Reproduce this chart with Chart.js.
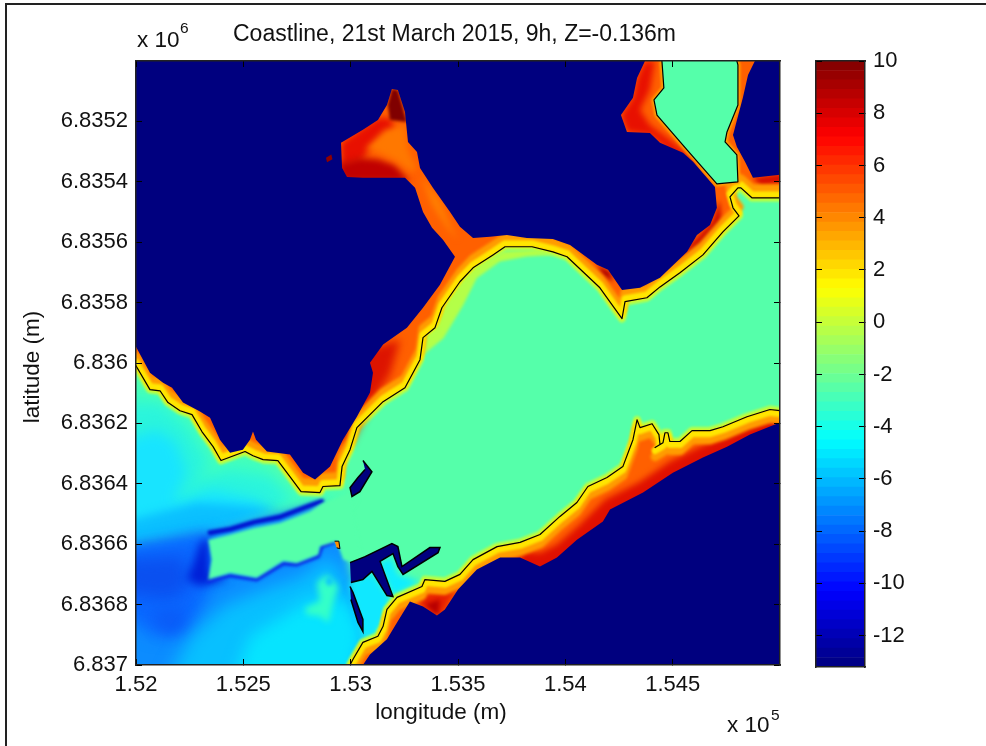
<!DOCTYPE html>
<html lang="en">
<head>
    <meta charset="UTF-8">
    <title>Coastline</title>
    <style>
        html, body { margin: 0; padding: 0; background: #fff; }
        #page { position: relative; width: 986px; height: 746px; overflow: hidden; }
        #page .frame-top { position: absolute; left: 6px; top: 3px; right: 0; height: 2px; background: #222; }
        #page .frame-left { position: absolute; left: 5px; top: 3px; bottom: 0; width: 2px; background: #222; }
        canvas { position: absolute; top: 0; }
        #map { left: 0; }
        #bar { left: 780px; }
    </style>
    <script src="https://cdn.jsdelivr.net/npm/chart.js"></script>
</head>
<body>
<div id="page">
    <div class="frame-top"></div>
    <div class="frame-left"></div>
    <canvas id="map" width="909" height="746"></canvas>
    <canvas id="bar" width="206" height="746"></canvas>
</div>

<script>
    // axis values
    const originLon = 152000;
    const originLat = 6835000;
    const lonTicks = [152000, 152500, 153000, 153500, 154000, 154500];
    const latTicks = [6835200, 6835400, 6835600, 6835800, 6836000, 6836200, 6836400, 6836600, 6836800, 6837000];
    const colorTicks = [10, 8, 6, 4, 2, 0, -2, -4, -6, -8, -10, -12];
    const colorMin = -13.2;
    const colorMax = 10;

    // outlines, [metres east of originLon, metres south of originLat]
    const seaExtent = [[0, 0], [3000, 0], [3000, 2000], [0, 2000]];

    const coastNorth = [[0, 1009], [65, 1088], [112, 1092], [149, 1131], [205, 1158], [261, 1171], [307, 1227], [359, 1277], [396, 1323],
        [508, 1293], [545, 1307], [592, 1320], [661, 1323], [717, 1376], [769, 1426], [857, 1429], [871, 1409], [950, 1406], [960, 1343],
        [997, 1287], [1029, 1214], [1151, 1128], [1253, 1082], [1323, 989], [1337, 916], [1393, 883], [1425, 817], [1509, 731], [1570, 685],
        [1663, 642], [1719, 615], [1845, 615], [1942, 632], [2008, 648], [2082, 698], [2161, 751], [2217, 807], [2264, 853], [2278, 797],
        [2380, 784], [2441, 748], [2534, 701], [2641, 642], [2734, 566], [2809, 513], [2781, 486], [2767, 450], [2804, 420], [2818, 420],
        [2869, 453], [3000, 453]];

    const coastSouth = [[3000, 1158], [2953, 1154], [2846, 1178], [2734, 1211], [2674, 1224], [2590, 1224], [2534, 1260], [2487, 1260],
        [2478, 1231], [2464, 1231], [2455, 1264], [2418, 1280], [2441, 1270], [2436, 1237], [2404, 1201], [2348, 1214], [2334, 1188],
        [2315, 1254], [2268, 1343], [2194, 1379], [2105, 1409], [2054, 1462], [1975, 1508], [1882, 1568], [1789, 1594], [1682, 1608],
        [1570, 1651], [1509, 1700], [1439, 1723], [1346, 1717], [1332, 1740], [1216, 1776], [1169, 1816], [1151, 1872], [1127, 1905],
        [1057, 1925], [1011, 1981], [997, 2000]];

    const lakeOutline = [[2450, 0], [2459, 89], [2413, 129], [2427, 179], [2567, 294], [2706, 407], [2804, 400], [2799, 311], [2744, 268],
        [2753, 235], [2804, 146], [2804, 13], [2799, 0]];

    const dryNorthWest = [[0, 0], [2371, 0], [2334, 56], [2315, 122], [2259, 179], [2287, 235], [2394, 238], [2441, 271], [2548, 304], [2595, 334],
        [2697, 417], [2706, 486], [2674, 543], [2613, 576], [2567, 632], [2441, 718], [2348, 751], [2264, 758], [2199, 691], [2147, 675],
        [2022, 609], [1942, 589], [1821, 586], [1728, 576], [1649, 582], [1570, 586], [1509, 549], [1463, 500], [1383, 420], [1323, 354],
        [1309, 301], [1267, 268], [1253, 169], [1220, 96], [1192, 93], [1169, 146], [1127, 195], [1057, 228], [955, 271], [960, 354],
        [983, 384], [1057, 387], [1253, 387], [1300, 420], [1337, 500], [1379, 552], [1430, 592], [1486, 648], [1416, 741], [1337, 817],
        [1262, 883], [1151, 939], [1090, 999], [1104, 1032], [1090, 1098], [1029, 1178], [964, 1254], [904, 1343], [834, 1386], [778, 1363],
        [717, 1303], [610, 1293], [559, 1254], [545, 1227], [531, 1254], [498, 1287], [438, 1297], [391, 1254], [345, 1181], [298, 1161],
        [219, 1131], [168, 1082], [126, 1065], [65, 1032], [0, 946]];
    const dryNorthEast = [[2883, 0], [3000, 0], [3000, 377], [2874, 387], [2837, 334], [2799, 284], [2781, 245], [2827, 122], [2851, 46]];
    const drySouth = [[3000, 1197], [2860, 1237], [2753, 1277], [2641, 1313], [2501, 1363], [2362, 1429], [2208, 1485], [2175, 1525], [2054, 1585],
        [1961, 1644], [1882, 1674], [1789, 1644], [1696, 1644], [1588, 1684], [1500, 1750], [1439, 1816], [1402, 1836], [1337, 1806],
        [1276, 1790], [1216, 1859], [1169, 1915], [1090, 1965], [1057, 2000], [3000, 2000]];

    // high ground patches
    const headTip = [[1192, 93], [1220, 96], [1262, 202], [1183, 195], [1173, 146]];
    const headRed = [[955, 271], [1057, 222], [1127, 189], [1183, 189], [1206, 228], [1113, 278], [1043, 331], [974, 344], [960, 361]];
    const headLower = [[940, 340], [1043, 320], [1127, 325], [1206, 345], [1276, 400], [1057, 400], [960, 400]];
    const headOrange = [[1066, 294], [1159, 228], [1253, 212], [1267, 294], [1309, 360], [1286, 367], [1206, 327], [1127, 301]];
    const stemCore = [[1323, 377], [1416, 460], [1463, 543], [1500, 592], [1449, 552], [1379, 476]];
    const westShoreRed = [[1066, 956], [1230, 923], [1183, 1039], [1090, 1138], [997, 1270], [950, 1254]];
    const bayHeadRed = [[2147, 675], [2208, 698], [2222, 731], [2175, 708]];
    const inletRed = [[2348, 741], [2581, 609], [2683, 533], [2720, 461], [2729, 543], [2627, 626], [2441, 738], [2348, 771]];
    const lakeWestRed = [[2371, 0], [2417, 0], [2394, 96], [2348, 162], [2394, 212], [2487, 261], [2627, 344], [2581, 354], [2394, 245], [2287, 235],
        [2259, 179], [2315, 122], [2334, 56]];
    const eastEdgeRed = [[2874, 387], [3060, 367], [3060, 403], [2911, 413]];
    const southRed = [[3060, 1171], [2860, 1204], [2753, 1240], [2627, 1277], [2487, 1326], [2348, 1393], [2185, 1452], [2068, 1535], [1961, 1601],
        [1882, 1628], [1789, 1624], [1789, 1684], [1882, 1717], [2161, 1568], [2348, 1485], [2627, 1353], [3060, 1237]];
    const lobeRed = [[1300, 1770], [1416, 1757], [1500, 1734], [1439, 1822], [1402, 1843], [1337, 1816]];
    const lobeDark = [[1346, 1800], [1416, 1783], [1407, 1836]];
    const speckNorth = [[885, 320], [910, 310], [915, 325], [890, 335]];

    // shallow water next to the bay
    const bayHalo = [[1339, 918], [1432, 800], [1509, 730], [1571, 686], [1711, 631], [1866, 625], [1944, 642], [1820, 647], [1695, 664], [1587, 719],
        [1525, 807], [1432, 918], [1339, 973]];

    // west bay depth bands, run past the frame so their soft edges stay outside
    const bayTeal = [[-80, 1033], [143, 1132], [267, 1177], [376, 1320], [516, 1298], [593, 1320], [717, 1408], [780, 1430], [997, 1430], [935, 1463],
        [717, 1474], [345, 1552], [-80, 1607]];
    const bayLight = [[-80, 1132], [112, 1132], [236, 1210], [345, 1331], [283, 1386], [438, 1353], [624, 1375], [733, 1458], [345, 1552], [-80, 1601]];
    const bayCyan = [[-80, 1265], [96, 1221], [189, 1265], [236, 1364], [174, 1463], [360, 1419], [562, 1452], [624, 1485], [345, 1552], [-80, 1596]];
    const bayStrip = [[-80, 1529], [283, 1463], [671, 1480], [345, 1557], [-80, 1604]];
    const lowerBlue = [[-80, 1601], [345, 1552], [865, 1463], [966, 1585], [997, 1695], [1059, 1893], [1043, 1926], [997, 2080], [-80, 2080]];
    const lowerMid = [[-80, 1618], [345, 1562], [345, 1739], [283, 1849], [236, 1904], [81, 1904], [-80, 1827]];
    const lobeWest = [[-80, 1651], [220, 1640], [252, 1739], [158, 1783], [-80, 1761]];
    const lobeSouth = [[65, 1827], [205, 1805], [236, 1882], [127, 1893]];
    const lowerLight = [[127, 2080], [252, 1905], [407, 1805], [593, 1750], [780, 1706], [888, 1640], [966, 1695], [1059, 1893], [997, 2080]];
    const lowerBright = [[438, 2080], [531, 1905], [686, 1838], [811, 1783], [981, 1783], [1059, 1893], [997, 2080]];
    const tealBlob = [[787, 1811], [857, 1789], [842, 1728], [888, 1700], [943, 1739], [919, 1794], [896, 1860], [857, 1838], [795, 1833]];
    const tealDot = [[880, 1722], [904, 1706], [919, 1728], [896, 1739]];
    const deepWest = [[298, 1596], [337, 1574], [345, 1706], [438, 1717], [298, 1739], [236, 1717], [267, 1662]];
    const rimNorth = [[345, 1562], [440, 1550], [550, 1527], [670, 1510], [800, 1475], [865, 1458]];
    const rimSouth = [[337, 1722], [438, 1704], [562, 1717], [686, 1664], [749, 1667], [849, 1640], [865, 1607], [919, 1593]];
    const shoalIsland = [[337, 1585], [438, 1568], [547, 1546], [671, 1529], [811, 1491], [865, 1465], [997, 1430], [1059, 1673], [966, 1651], [935, 1590],
        [857, 1607], [849, 1634], [749, 1662], [686, 1656], [562, 1711], [438, 1695], [337, 1717], [352, 1651]];

    // harbour
    const harbourInner = [[1127, 1661], [1192, 1641], [1220, 1700], [1323, 1723], [1197, 1773]];
    const harbourOuter = [[997, 1727], [1099, 1690], [1183, 1776], [1174, 1839], [1090, 1925], [1057, 1905], [997, 1740]];
    const breakwaterNorth = [[1057, 1323], [1099, 1360], [1043, 1426], [1006, 1442], [997, 1413], [1034, 1379], [1067, 1353]];
    const harbourMole = [[997, 1661], [1067, 1641], [1192, 1598], [1220, 1608], [1239, 1674], [1369, 1611], [1416, 1611], [1407, 1628], [1244, 1700],
        [1220, 1674], [1197, 1631], [1137, 1657], [1197, 1773], [1169, 1770], [1099, 1690], [1057, 1717], [1001, 1727]];
    const harbourSpit = [[997, 1740], [1011, 1760], [1057, 1849], [1057, 1889], [1034, 1859], [1001, 1783]];
    const speckHarbour = [[925, 1590], [945, 1590], [950, 1615], [935, 1612]];

    const seaColor = 'rgb(85,255,170)';
    const landColor = '#00007f';
    const wetColor = '#ff6000';

    function toPoints(outline) {
        return outline.map(p => ({ x: originLon + p[0], y: originLat + p[1] }));
    }
    function area(outline, color, blur, edge, edgeWidth) {
        return {
            data: toPoints(outline), showLine: true, pointRadius: 0, tension: 0,
            fill: 'shape', backgroundColor: color, blur: blur || 0,
            borderColor: edge || color, borderWidth: edgeWidth || 0
        };
    }
    function stroke(outline, color, width, blur) {
        return {
            data: toPoints(outline), showLine: true, pointRadius: 0, tension: 0, fill: false, blur: blur || 0,
            borderColor: color, borderWidth: width, borderJoinStyle: 'round', borderCapStyle: 'round'
        };
    }
    const shifted = (outline, south) => outline.map(p => [p[0], p[1] + south]);

    // painted back to front
    const layers = [
        area(seaExtent, seaColor),
        area(bayTeal, '#40ffbe', 7),
        area(bayLight, '#2bf5dc', 7),
        area(bayCyan, '#18e4ff', 7),
        area(bayStrip, '#0bc0ff', 5),
        area(lowerBlue, '#0c8cff', 5),
        area(lowerMid, '#0a68ff', 8),
        area(lobeWest, '#0a50f0', 8),
        area(lobeSouth, '#0a5cf8', 7),
        area(lowerLight, '#08c0ff', 9),
        area(lowerBright, '#06e4ff', 8),
        area(tealBlob, '#34ffc8', 3),
        area(tealDot, '#0cc0ff', 2),
        area(deepWest, '#0020d8', 4),
        stroke(rimNorth, '#0010d0', 5, 1.5),
        stroke(rimSouth, '#0c30e8', 4, 1.5),
        area(shoalIsland, seaColor, 1.5),
        area(harbourInner, '#10eeff', 3),
        area(harbourOuter, '#10e8ff', 3),
        area(bayHalo, '#b4ff48', 1.5),
        stroke(coastNorth, '#b4ff48', 8, 1),
        stroke(coastSouth, '#b4ff48', 8, 1),
        area([[0, 0], [3000, 0], ...coastNorth.slice().reverse()], wetColor),
        area([...coastSouth, [3000, 2000]], wetColor),
        area(headRed, '#e81000', 3),
        area(headLower, '#c00000', 3),
        area(headOrange, '#ff7800', 3),
        area(headTip, '#800000', 1.5),
        area(stemCore, '#ff8000', 3),
        area(westShoreRed, '#dd1400', 4),
        area(bayHeadRed, '#b00000', 2),
        area(inletRed, '#d01000', 2),
        area(lakeWestRed, '#e81000', 3),
        area(eastEdgeRed, '#d81000', 2),
        area(southRed, '#e01000', 3),
        area(lobeRed, '#e82000', 3),
        area(lobeDark, '#b80000', 2),
        stroke(shifted(coastNorth, -30), '#ff9c00', 9, 1.5),
        stroke(shifted(coastSouth, 30), '#ff9c00', 9, 1.5),
        stroke(shifted(coastNorth, -10), '#ffe600', 7, 1),
        stroke(shifted(coastSouth, 10), '#ffe600', 7, 1),
        stroke(lakeOutline, '#ffa000', 5, 1),
        area(lakeOutline, seaColor),
        area(dryNorthWest, landColor),
        area(dryNorthEast, landColor),
        area(drySouth, landColor),
        area(speckNorth, '#900000'),
        area(speckHarbour, '#ff9000', 0, '#000', 1),
        area(breakwaterNorth, landColor, 0, '#000', 1.5),
        area(harbourMole, landColor, 0, '#000', 1.5),
        area(harbourSpit, landColor, 0, '#000', 1.5),
        stroke(coastNorth, '#000', 1.2),
        stroke(coastSouth, '#000', 1.2),
        stroke(lakeOutline, '#000', 1.2)
    ];
    layers.forEach((l, i) => { l.order = layers.length - i; });

    // softens the raster look of the depth bands, set before the next layer gets filled
    const softEdges = {
        id: 'softEdges',
        afterDatasetDraw(chart, args) {
            const next = layers[args.index + 1];
            chart.ctx.filter = next && next.blur ? 'blur(' + next.blur + 'px)' : 'none';
        },
        afterDatasetsDraw(chart) { chart.ctx.filter = 'none'; }
    };

    const fontFamily = '"Liberation Sans", Arial, sans-serif';
    const tickFont = { family: fontFamily, size: 22 };
    const textColor = '#111';

    function axisStyle() {
        return {
            grid: { drawOnChartArea: false, drawTicks: true, tickLength: -6, color: '#000', z: 1 },
            border: { display: true, color: '#222', width: 1.5, z: 1 }
        };
    }
    function mirrorScale(position, min, max, tickValues, reverse, size) {
        return Object.assign(axisStyle(), {
            type: 'linear', position: position, min: min, max: max, reverse: !!reverse,
            ticks: { display: false },
            afterBuildTicks: s => { s.ticks = tickValues.map(v => ({ value: v })); },
            afterFit: s => {
                if (s.isHorizontal()) { s.height = size || 0; } else { s.width = size || 0; }
            }
        });
    }

    // axis labels and the exponents
    const mapNotes = {
        id: 'mapNotes',
        afterDraw(chart) {
            const c = chart.ctx;
            c.save();
            c.fillStyle = textColor;
            c.font = '22.5px ' + fontFamily;
            c.textAlign = 'center';
            c.textBaseline = 'middle';
            c.fillText('longitude (m)', 441, 713);
            c.save();
            c.translate(33, 367);
            c.rotate(-Math.PI / 2);
            c.fillText('latitude (m)', 0, 0);
            c.restore();
            c.textAlign = 'left';
            c.fillText('x 10', 137, 41);
            c.fillText('x 10', 727, 726);
            c.font = '15.5px ' + fontFamily;
            c.fillText('6', 180, 29);
            c.fillText('5', 771, 716);
            c.restore();
        }
    };

    new Chart(document.getElementById('map'), {
        type: 'scatter',
        data: { datasets: layers },
        options: {
            responsive: false,
            animation: false,
            layout: { padding: 0 },
            plugins: {
                legend: { display: false },
                tooltip: { enabled: false },
                title: {
                    display: true,
                    text: 'Coastline, 21st March 2015, 9h, Z=-0.136m',
                    color: textColor,
                    font: { family: fontFamily, size: 23, weight: 'normal', lineHeight: 1 },
                    padding: { top: 23, bottom: 15 }
                }
            },
            scales: {
                x: Object.assign(axisStyle(), {
                    type: 'linear', position: 'bottom', min: originLon, max: originLon + 3000,
                    ticks: {
                        font: tickFont, color: textColor, padding: 13, maxRotation: 0, autoSkip: false,
                        callback: v => String(+(v / 1e5).toFixed(4))
                    },
                    afterBuildTicks: s => { s.ticks = lonTicks.map(v => ({ value: v })); },
                    afterFit: s => { s.height = 81; }
                }),
                y: Object.assign(axisStyle(), {
                    type: 'linear', position: 'left', min: originLat, max: originLat + 2000, reverse: true,
                    ticks: {
                        font: tickFont, color: textColor, padding: 14, autoSkip: false,
                        callback: v => String(+(v / 1e6).toFixed(4))
                    },
                    afterBuildTicks: s => { s.ticks = latTicks.map(v => ({ value: v })); },
                    afterFit: s => { s.width = 136; }
                }),
                xTop: mirrorScale('top', originLon, originLon + 3000, lonTicks),
                yRight: mirrorScale('right', originLat, originLat + 2000, latTicks, true, 129)
            }
        },
        plugins: [softEdges, mapNotes]
    });

    // colour bar, the jet map split in 64 steps
    const barSteps = 64;
    const barLabels = ['Z'];
    function jet(t) {
        const part = k => Math.round(255 * Math.max(0, Math.min(1, 1.5 - Math.abs(4 * t - k))));
        return 'rgb(' + part(3) + ',' + part(2) + ',' + part(1) + ')';
    }
    const barSets = [];
    for (let i = 0; i < barSteps; i++) {
        const step = (colorMax - colorMin) / barSteps;
        barSets.push({
            data: [[colorMin + i * step, colorMin + (i + 1) * step]],
            backgroundColor: jet((i + 0.5) / barSteps),
            borderWidth: 0, grouped: false, barPercentage: 1, categoryPercentage: 1
        });
    }

    new Chart(document.getElementById('bar'), {
        type: 'bar',
        data: { labels: barLabels, datasets: barSets },
        options: {
            responsive: false,
            animation: false,
            layout: { padding: { top: 61, left: 36, right: 0, bottom: 79 } },
            plugins: { legend: { display: false }, tooltip: { enabled: false } },
            scales: {
                x: {
                    display: true,
                    grid: { display: false },
                    border: { display: true, color: '#222', width: 1.5, z: 1 },
                    ticks: { display: false },
                    afterFit: s => { s.height = 0; }
                },
                xTop: mirrorScale('top', 0, 1, []),
                y: Object.assign(axisStyle(), {
                    type: 'linear', position: 'right', min: colorMin, max: colorMax,
                    ticks: { font: tickFont, color: textColor, padding: 14, autoSkip: false },
                    afterBuildTicks: s => { s.ticks = colorTicks.map(v => ({ value: v })); },
                    afterFit: s => { s.width = 121; }
                }),
                yLeft: mirrorScale('left', colorMin, colorMax, colorTicks)
            }
        }
    });
</script>
</body>
</html>
